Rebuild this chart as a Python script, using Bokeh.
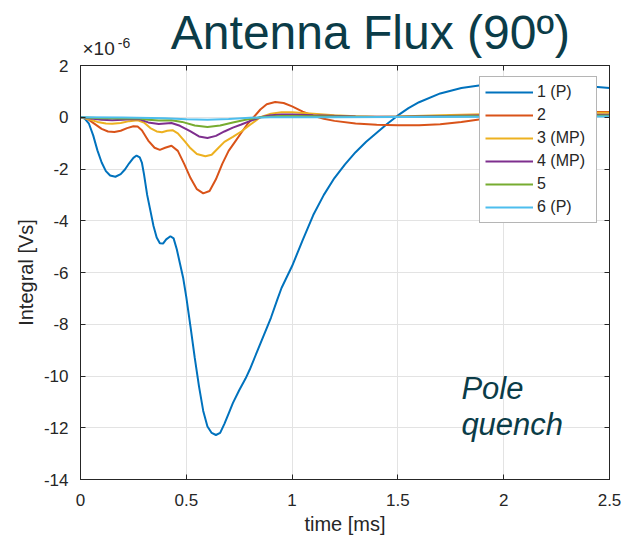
from bokeh.plotting import figure
from bokeh.layouts import column
from bokeh.models import Label, LinearAxis, FixedTicker, Legend, LegendItem
from bokeh.embed import file_html
from bokeh.resources import INLINE

# ---- data (values in units of 1e-6 Vs, time in ms) ----
t1 = [0, 0.02, 0.04, 0.06, 0.08, 0.10, 0.12, 0.14, 0.165, 0.19, 0.21, 0.23, 0.25, 0.265, 0.28,
      0.29, 0.30, 0.315, 0.33, 0.345, 0.36, 0.375, 0.39, 0.405, 0.425, 0.44, 0.455, 0.47, 0.485,
      0.50, 0.52, 0.54, 0.56, 0.58, 0.60, 0.62, 0.64, 0.66, 0.68, 0.70, 0.72, 0.75, 0.78, 0.80,
      0.85, 0.90, 0.93, 0.95, 1.00, 1.05, 1.10, 1.15, 1.20, 1.25, 1.30, 1.35, 1.40, 1.45, 1.50,
      1.55, 1.60, 1.70, 1.80, 1.90, 2.00, 2.10, 2.20, 2.30, 2.40, 2.50]
v1 = [0, -0.05, -0.25, -0.7, -1.28, -1.75, -2.08, -2.25, -2.3, -2.2, -2.02, -1.78, -1.57, -1.48, -1.55,
      -1.75, -2.2, -3.0, -3.6, -4.2, -4.65, -4.87, -4.88, -4.72, -4.6, -4.68, -5.1, -5.65, -6.2,
      -6.95, -8.1, -9.3, -10.4, -11.35, -11.95, -12.2, -12.28, -12.2, -11.85, -11.45, -11.05, -10.55, -10.1, -9.75,
      -8.75, -7.75, -7.05, -6.6, -5.75, -4.75, -3.78, -3.0, -2.35, -1.82, -1.35, -0.95, -0.6, -0.25, 0.07,
      0.35, 0.58, 0.92, 1.13, 1.25, 1.3, 1.31, 1.29, 1.25, 1.2, 1.13]

t2 = [0, 0.03, 0.06, 0.10, 0.13, 0.16, 0.19, 0.22, 0.25, 0.27, 0.29, 0.32, 0.35, 0.375, 0.40, 0.43,
      0.46, 0.49, 0.52, 0.55, 0.58, 0.61, 0.64, 0.67, 0.70, 0.73, 0.76, 0.79, 0.82, 0.85, 0.88, 0.92,
      0.96, 1.00, 1.05, 1.10, 1.15, 1.20, 1.30, 1.40, 1.50, 1.60, 1.70, 1.80, 1.90, 2.00, 2.10, 2.20,
      2.30, 2.40, 2.50]
v2 = [0, -0.05, -0.22, -0.45, -0.55, -0.57, -0.52, -0.42, -0.35, -0.36, -0.5, -0.9, -1.18, -1.26, -1.18, -1.1,
      -1.3, -1.8, -2.35, -2.78, -2.94, -2.85, -2.4, -1.8, -1.3, -0.95, -0.6, -0.25, 0.02, 0.3, 0.5, 0.59,
      0.55, 0.42, 0.22, 0.06, -0.06, -0.14, -0.24, -0.29, -0.31, -0.31, -0.27, -0.18, -0.07, 0.03, 0.1, 0.15,
      0.18, 0.2, 0.2]

t3 = [0, 0.04, 0.08, 0.12, 0.15, 0.19, 0.23, 0.27, 0.30, 0.33, 0.36, 0.385, 0.41, 0.435, 0.46, 0.49,
      0.52, 0.55, 0.59, 0.62, 0.65, 0.68, 0.72, 0.76, 0.80, 0.85, 0.90, 0.95, 1.00, 1.10, 1.20, 1.30,
      1.40, 1.50, 1.70, 1.90, 2.10, 2.30, 2.50]
v3 = [0, -0.08, -0.18, -0.24, -0.25, -0.22, -0.15, -0.12, -0.2, -0.42, -0.55, -0.58, -0.52, -0.5, -0.62, -0.9,
      -1.2, -1.42, -1.51, -1.45, -1.2, -0.95, -0.76, -0.55, -0.3, 0.0, 0.14, 0.19, 0.19, 0.14, 0.08, 0.04,
      0.02, 0.03, 0.08, 0.12, 0.15, 0.16, 0.17]

t4 = [0, 0.05, 0.10, 0.15, 0.20, 0.25, 0.28, 0.32, 0.37, 0.40, 0.43, 0.47, 0.52, 0.56, 0.60, 0.64,
      0.68, 0.72, 0.76, 0.80, 0.85, 0.90, 0.95, 1.00, 1.10, 1.30, 1.50, 1.80, 2.10, 2.50]
v4 = [0, -0.05, -0.1, -0.12, -0.1, -0.07, -0.08, -0.2, -0.26, -0.24, -0.22, -0.33, -0.55, -0.74, -0.8, -0.72,
      -0.55, -0.4, -0.28, -0.15, 0.0, 0.08, 0.11, 0.11, 0.08, 0.03, 0.02, 0.06, 0.09, 0.1]

t5 = [0, 0.10, 0.20, 0.27, 0.32, 0.37, 0.43, 0.48, 0.54, 0.60, 0.66, 0.72, 0.78, 0.85, 0.95, 1.10,
      1.40, 1.80, 2.20, 2.50]
v5 = [0, -0.04, -0.05, -0.04, -0.1, -0.13, -0.12, -0.18, -0.32, -0.38, -0.32, -0.2, -0.1, 0.0, 0.05, 0.04,
      0.01, 0.04, 0.06, 0.07]

t6 = [0, 0.20, 0.40, 0.50, 0.60, 0.70, 0.80, 0.90, 1.20, 1.50, 2.00, 2.50]
v6 = [0, -0.01, -0.04, -0.08, -0.1, -0.07, -0.02, 0.0, 0.0, 0.01, 0.02, 0.03]

series_names = ["1 (P)", "2", "3 (MP)", "4 (MP)", "5", "6 (P)"]
series_colors = ["#0072BD", "#D95319", "#EDB120", "#7E2F8E", "#77AC30", "#4DBEEE"]

x_ticks = [0, 0.5, 1, 1.5, 2, 2.5]
x_tick_labels = ["0", "0.5", "1", "1.5", "2", "2.5"]
y_ticks = [-14, -12, -10, -8, -6, -4, -2, 0, 2]
y_tick_labels = ["-14", "-12", "-10", "-8", "-6", "-4", "-2", "0", "2"]

title_text = "Antenna Flux (90º)"
exponent_base = "×10"
exponent_power = "-6"
note_lines = ["Pole", "quench"]

AX = "#262626"
FONT = "Liberation Sans"
TEAL = "#0b3c48"
W = 623
TOP_H = 58
ML, MR = 80, 14

# ---- header strip (title and exponent), same horizontal mapping as the plot ----
top = figure(width=W, height=TOP_H, x_range=(0, 2.5), y_range=(0, TOP_H),
             output_backend="svg", toolbar_location=None,
             min_border_left=ML, min_border_right=MR, min_border_top=0, min_border_bottom=0)
top.axis.visible = False
top.grid.visible = False
top.outline_line_color = None
top.background_fill_color = "white"
top.border_fill_color = "white"
top.add_layout(Label(x=1.370, y=26.3, text=title_text, text_align="center",
                     text_baseline="alphabetic", text_font=FONT, text_font_size="48px",
                     text_color=TEAL))
top.add_layout(Label(x=0.0095, y=10.5, text=exponent_base, text_font=FONT,
                     text_font_size="19px", text_color=AX, text_baseline="alphabetic"))
top.add_layout(Label(x=0.176, y=15.5, text=exponent_power, text_font=FONT,
                     text_font_size="14px", text_color=AX, text_baseline="alphabetic"))

# ---- main plot ----
p = figure(width=W, height=541 - TOP_H, x_range=(0, 2.5), y_range=(-14, 2),
           output_backend="svg", toolbar_location=None,
           min_border_left=ML, min_border_right=MR, min_border_top=7, min_border_bottom=62,
           x_axis_label="time [ms]", y_axis_label="Integral [Vs]")
p.background_fill_color = "white"
p.border_fill_color = "white"
p.outline_line_color = AX
p.outline_line_width = 1

for ax in (p.xaxis[0], p.yaxis[0]):
    ax.axis_line_color = AX
    ax.major_tick_line_color = AX
    ax.major_tick_in = 5
    ax.major_tick_out = 0
    ax.minor_tick_line_color = None
    ax.major_label_text_font = FONT
    ax.major_label_text_font_size = "17px"
    ax.major_label_text_color = AX
    ax.axis_label_text_font = FONT
    ax.axis_label_text_font_size = "20px"
    ax.axis_label_text_font_style = "normal"
    ax.axis_label_text_color = AX

p.xaxis[0].ticker = FixedTicker(ticks=x_ticks)
p.xaxis[0].major_label_overrides = {k: v for k, v in zip(x_ticks, x_tick_labels)}
p.xaxis[0].major_label_standoff = 14
p.xaxis[0].axis_label_standoff = 4
p.yaxis[0].ticker = FixedTicker(ticks=y_ticks)
p.yaxis[0].major_label_overrides = {k: v for k, v in zip(y_ticks, y_tick_labels)}
p.yaxis[0].major_label_standoff = 12
p.yaxis[0].axis_label_standoff = 4

# mirrored ticks on top and right (labels not drawn)
for loc, tk in (("above", x_ticks), ("right", y_ticks)):
    a = LinearAxis(ticker=FixedTicker(ticks=tk), major_label_text_font_size="0px",
                   major_label_text_color=None, major_label_standoff=0,
                   major_tick_in=5, major_tick_out=0,
                   minor_tick_line_color=None, axis_line_color=AX, major_tick_line_color=AX)
    p.add_layout(a, loc)

p.xgrid.ticker = FixedTicker(ticks=x_ticks)
p.ygrid.ticker = FixedTicker(ticks=y_ticks)
p.xgrid.grid_line_color = "#e3e3e3"
p.ygrid.grid_line_color = "#e3e3e3"

ts = [t1, t2, t3, t4, t5, t6]
vs = [v1, v2, v3, v4, v5, v6]
items = []
for t, v, name, c in zip(ts, vs, series_names, series_colors):
    r = p.line(t, v, line_color=c, line_width=2)
    items.append(LegendItem(label=name, renderers=[r]))

legend = Legend(items=items, location=(399, 256), margin=0, padding=5, spacing=3,
                label_height=20, glyph_height=20, glyph_width=48, label_standoff=4,
                label_width=54, label_text_font=FONT, label_text_font_size="16px",
                label_text_color=AX, border_line_color="#6b6b6b", border_line_width=1,
                background_fill_color="white", background_fill_alpha=1)
p.add_layout(legend, "center")

p.add_layout(Label(x=1.80, y=-10.48, text=note_lines[0], text_font=FONT, text_font_size="31px",
                   text_font_style="italic", text_color=TEAL, text_baseline="alphabetic"))
p.add_layout(Label(x=1.80, y=-11.87, text=note_lines[1], text_font=FONT, text_font_size="31px",
                   text_font_style="italic", text_color=TEAL, text_baseline="alphabetic"))

layout = column(top, p, spacing=0)
open("out.html", "w").write(file_html(layout, INLINE))
